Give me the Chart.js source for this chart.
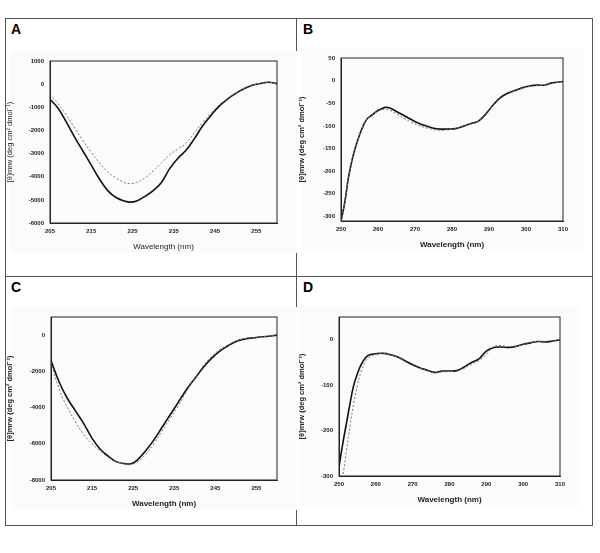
<!DOCTYPE html>
<html><head><meta charset="utf-8">
<script src="https://cdn.jsdelivr.net/npm/chart.js@4"></script>
<style>
body{margin:0;background:#fff;width:600px;height:553px;position:relative;font-family:"Liberation Sans",Arial,sans-serif}
.c{position:absolute}
.l{position:absolute;font-weight:bold;font-size:14px}
.b{position:absolute;background:#555}
</style></head><body>
<div class="b" style="left:5px;top:18px;width:588px;height:1px"></div>
<div class="b" style="left:5px;top:525px;width:588px;height:1px"></div>
<div class="b" style="left:5px;top:18px;width:1px;height:507px"></div>
<div class="b" style="left:592px;top:18px;width:1px;height:507px"></div>
<div class="b" style="left:296px;top:18px;width:1px;height:507px"></div>
<div class="b" style="left:5px;top:276px;width:588px;height:1px"></div>
<div class="l" style="left:11px;top:21px">A</div>
<div class="l" style="left:303px;top:21px">B</div>
<div class="l" style="left:11px;top:279px">C</div>
<div class="l" style="left:303px;top:279px">D</div>
<div class="c" style="left:5px;top:18px;width:292px;height:258px"><canvas id="cA"></canvas></div>
<div class="c" style="left:297px;top:18px;width:296px;height:258px"><canvas id="cB"></canvas></div>
<div class="c" style="left:5px;top:276px;width:292px;height:249px"><canvas id="cC"></canvas></div>
<div class="c" style="left:297px;top:276px;width:296px;height:249px"><canvas id="cD"></canvas></div>
<script>
// Panel A
const xA = [205,207,209,211,213,215,217,219,221,223,224.5,226,228,230,232,234,236,238,240,242,244,246,248,250,252,254,256,258,260];
const solidA = [-650,-1050,-1650,-2300,-2900,-3500,-4100,-4600,-4900,-5050,-5100,-5050,-4850,-4600,-4250,-3650,-3200,-2850,-2350,-1800,-1350,-950,-650,-400,-200,-50,30,80,20];
const dotA = [-450,-850,-1350,-1900,-2450,-2950,-3400,-3800,-4050,-4250,-4300,-4250,-4050,-3750,-3400,-3050,-2800,-2550,-2100,-1650,-1250,-900,-620,-380,-190,-40,30,80,20];
const xTicksA = [205,215,225,235,245,255];
const yTicksA = [-6000,-5000,-4000,-3000,-2000,-1000,0,1000];
// Panel B
const xB = [250,251,252,253,254,255,256,257,258,259,260,261,262,263,265,267,269,271,273,275,277,279,281,283,285,287,289,291,293,295,297,299,301,303,305,307,310];
const solidB = [-310,-270,-215,-175,-145,-120,-100,-85,-78,-72,-66,-62,-59,-60,-68,-77,-86,-94,-100,-105,-107,-107,-106,-101,-95,-90,-75,-55,-38,-28,-22,-16,-12,-10,-10,-5,-2];
const dotB = [-310,-270,-215,-175,-145,-120,-100,-85,-78,-72,-67,-64,-63,-65,-73,-83,-92,-99,-104,-108,-110,-108,-106,-101,-95,-90,-76,-56,-40,-30,-23,-17,-13,-11,-10,-6,-2];
const xTicksB = [250,260,270,280,290,300,310];
const yTicksB = [-300,-250,-200,-150,-100,-50,0,50];
// Panel C
const xC = [205,207,209,211,213,215,217,219,221,223,224.5,226,228,230,232,234,236,238,240,242,244,246,248,250,252,255,258,260];
const solidC = [-1400,-2600,-3500,-4200,-4900,-5700,-6300,-6700,-7000,-7100,-7100,-6900,-6400,-5800,-5100,-4400,-3700,-3000,-2400,-1800,-1300,-900,-600,-350,-220,-130,-60,0];
const dotC = [-1500,-3000,-4000,-4800,-5500,-6000,-6400,-6750,-7000,-7100,-7150,-7000,-6600,-6000,-5300,-4600,-3900,-3100,-2400,-1700,-1200,-800,-550,-330,-200,-120,-60,0];
const xTicksC = [205,215,225,235,245,255];
const yTicksC = [-8000,-6000,-4000,-2000,0];
// Panel D
const xD = [250,251,252,253,254,255,256,257,258,260,262,264,266,268,270,272,274,276,278,280,282,284,286,288,290,292,294,296,298,300,302,304,306,308,310];
const solidD = [-280,-230,-185,-140,-100,-75,-55,-42,-34,-31,-30,-33,-38,-47,-55,-62,-67,-72,-69,-69,-68,-60,-50,-42,-25,-17,-16,-17,-15,-10,-7,-4,-5,-3,0];
const dotD = [-330,-300,-245,-190,-140,-100,-70,-50,-40,-32,-30,-33,-38,-48,-57,-63,-68,-73,-71,-70,-69,-63,-54,-46,-32,-15,-13,-15,-14,-10,-6,-4,-3,-2,0];
const xTicksD = [250,260,270,280,290,300,310];
const yTicksD = [-300,-200,-100,0];

const yTitle = '[θ]mrw (deg cm² dmol⁻¹)';
const F = '"Liberation Sans", Arial, sans-serif';
const boxPlugin = {id:'box',afterDraw(c){const a=c.chartArea,g=c.ctx;g.save();g.strokeStyle='#222';g.lineWidth=1;g.strokeRect(a.left,a.top,a.right-a.left,a.bottom-a.top);g.restore();}};
const bgPlugin = {id:'bg',beforeDraw(c){const g=c.ctx;g.save();g.fillStyle='#fbfbfb';g.fillRect(c.chartArea.left-40,c.chartArea.top-10,c.chartArea.right-c.chartArea.left+60,c.chartArea.bottom-c.chartArea.top+40);g.restore();}};
function pts(xs,ys){return xs.map((x,i)=>({x:x,y:ys[i]}));}
function make(id,xs,s,d,xmin,xmax,xt,ymin,ymax,yt,yw,pad,boldTitle){
  new Chart(document.getElementById(id),{type:'line',
    data:{datasets:[
      {data:pts(xs,d),borderColor:'#777',borderWidth:1,borderDash:[2,2],pointRadius:0,tension:0.4},
      {data:pts(xs,s),borderColor:'#111',borderWidth:1.6,pointRadius:0,tension:0.4}]},
    options:{responsive:true,maintainAspectRatio:false,animation:false,
      layout:{padding:pad},
      plugins:{legend:{display:false},tooltip:{enabled:false}},
      scales:{
        x:{type:'linear',min:xmin,max:xmax,grid:{display:false,drawTicks:true,tickLength:3},border:{color:'#222'},
          afterBuildTicks:sc=>{sc.ticks=xt.map(v=>({value:v}));},
          afterFit:sc=>{sc.height=29;},
          ticks:{font:{family:F,size:6,weight:'bold'},color:'#222',padding:2,maxRotation:0,callback:v=>String(v)},
          title:{display:true,text:'Wavelength (nm)',font:{family:F,size:8,weight:boldTitle?'bold':'normal'},color:'#222',padding:{top:2,bottom:0}}},
        y:{min:ymin,max:ymax,grid:{display:false,tickLength:3},border:{color:'#222'},
          afterBuildTicks:sc=>{sc.ticks=yt.map(v=>({value:v}));},
          afterFit:sc=>{sc.width=yw;},
          ticks:{font:{family:F,size:6,weight:'bold'},color:'#222',padding:3,callback:v=>String(v)},
          title:{display:true,text:yTitle,font:{family:F,size:7.5,weight:boldTitle?'bold':'normal'},color:'#222',padding:{top:0,bottom:2}}}
      }},
    plugins:[bgPlugin,boxPlugin]});
}
make('cA',xA,solidA,dotA,205,260,xTicksA,-6000,1000,yTicksA,45,{left:0,right:20,top:43,bottom:24},false);
make('cB',xB,solidB,dotB,250,310,xTicksB,-310,50,yTicksB,44,{left:0,right:30,top:40,bottom:26},true);
make('cC',xC,solidC,dotC,205,260,xTicksC,-8000,1000,yTicksC,46,{left:0,right:20,top:41,bottom:16},true);
make('cD',xD,solidD,dotD,250,310,xTicksD,-300,50,yTicksD,42,{left:0,right:33,top:41,bottom:20},true);
</script></body></html>
